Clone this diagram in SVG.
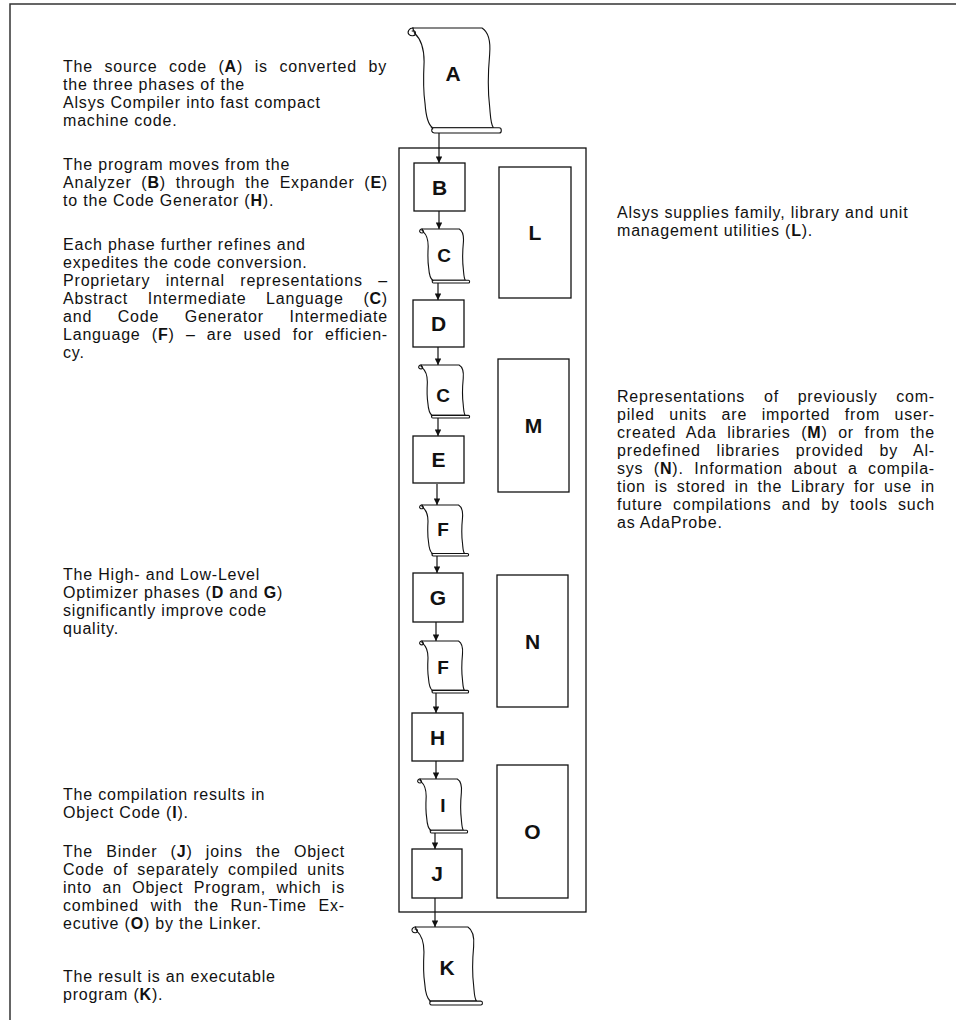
<svg xmlns="http://www.w3.org/2000/svg" width="956" height="1020" viewBox="0 0 956 1020">
<style>
.frame{fill:none;stroke:#333;stroke-width:1.5}
.box{fill:#fff;stroke:#111;stroke-width:1.3}
.scr{fill:#fff;stroke:#111;stroke-width:1.1;vector-effect:non-scaling-stroke}
.scl{fill:none;stroke:#111;stroke-width:1.1;vector-effect:non-scaling-stroke}
.t{font-family:"Liberation Sans",Arial,Helvetica,sans-serif;font-size:16px;fill:#111;letter-spacing:0.8px}
.b{font-weight:bold}
.lbl{font-family:"Liberation Sans",Arial,Helvetica,sans-serif;font-weight:bold;font-size:21px;fill:#111;text-anchor:middle}
.lbs{font-size:19px}
.conn line{stroke:#111;stroke-width:1.2;marker-end:url(#ah)}
</style>
<defs>
<marker id="ah" viewBox="0 0 10 10" refX="10" refY="5" markerWidth="9" markerHeight="6.5" markerUnits="userSpaceOnUse" orient="auto">
<path d="M0,0 L10,5 L0,10 z" fill="#111"/>
</marker>
<g id="scroll">
<path class="scr" d="M6 0 L79 0 C86 4 88 14 87 25 C85 45 85 60 87 75 C88 85 88 92 91 95 L27 95 C22 92 20 85 19 72 C17 60 17 50 18 32 C18 20 14 10 8 5 Z"/>
<path class="scr" d="M26 95 L97 95 C100 95 100 100 97 100 L29 100 C26 100 25 97 27 96 Z"/>
<path class="scl" d="M7 0 C2 -0.5 0 4 2 6 C4 8 9 8 9 5 C9 3 7 2 5 3"/>
</g>
</defs>
<rect width="956" height="1020" fill="#fff"/>
<path class="frame" d="M10 1020 L10 4 L956 4"/>

<g id="container"><rect x="399" y="148" width="187" height="764" fill="none" stroke="#111" stroke-width="1.3"/></g>

<g class="conn" id="connectors">
<line x1="439" y1="133" x2="439" y2="163"/>
<line x1="439" y1="211" x2="439" y2="229"/>
<line x1="438" y1="283" x2="438" y2="300"/>
<line x1="438" y1="347" x2="438" y2="365"/>
<line x1="438" y1="418" x2="438" y2="436"/>
<line x1="437" y1="484" x2="437" y2="505"/>
<line x1="437" y1="556" x2="437" y2="573"/>
<line x1="436" y1="622" x2="436" y2="641"/>
<line x1="436" y1="693" x2="436" y2="713"/>
<line x1="436" y1="761" x2="436" y2="779"/>
<line x1="435" y1="833" x2="435" y2="849"/>
<line x1="435" y1="898" x2="435" y2="927"/>
</g>

<g id="A"><use href="#scroll" transform="translate(407 28) scale(0.95 1.05)"/><text class="lbl" x="453" y="81">A</text></g>
<g id="B"><rect class="box" x="414" y="163" width="51" height="48"/><text class="lbl" x="439.5" y="195">B</text></g>
<g id="C1"><use href="#scroll" transform="translate(419 229) scale(0.51 0.54)"/><text class="lbl lbs" x="444" y="262">C</text></g>
<g id="D"><rect class="box" x="413" y="300" width="51" height="47"/><text class="lbl" x="438.5" y="331">D</text></g>
<g id="C2"><use href="#scroll" transform="translate(418 365) scale(0.52 0.53)"/><text class="lbl lbs" x="443" y="402">C</text></g>
<g id="E"><rect class="box" x="413" y="436" width="51" height="47"/><text class="lbl" x="438.5" y="467">E</text></g>
<g id="F1"><use href="#scroll" transform="translate(419 505) scale(0.5 0.51)"/><text class="lbl lbs" x="443" y="536">F</text></g>
<g id="G"><rect class="box" x="413" y="573" width="50" height="49"/><text class="lbl" x="438" y="605">G</text></g>
<g id="F2"><use href="#scroll" transform="translate(419 641) scale(0.5 0.52)"/><text class="lbl lbs" x="443" y="674">F</text></g>
<g id="H"><rect class="box" x="412" y="713" width="51" height="48"/><text class="lbl" x="437.5" y="745">H</text></g>
<g id="I"><use href="#scroll" transform="translate(417 779) scale(0.51 0.54)"/><text class="lbl lbs" x="443" y="812">I</text></g>
<g id="J"><rect class="box" x="412" y="849" width="50" height="49"/><text class="lbl" x="437" y="881">J</text></g>
<g id="K"><use href="#scroll" transform="translate(411 927) scale(0.72 0.78)"/><text class="lbl" x="447" y="975">K</text></g>

<g id="L"><rect class="box" x="499" y="167" width="72" height="131"/><text class="lbl" x="535" y="240">L</text></g>
<g id="M"><rect class="box" x="498" y="359" width="71" height="133"/><text class="lbl" x="533.5" y="433">M</text></g>
<g id="N"><rect class="box" x="497" y="575" width="71" height="132"/><text class="lbl" x="532.5" y="649">N</text></g>
<g id="O"><rect class="box" x="497" y="765" width="71" height="133"/><text class="lbl" x="532.5" y="839">O</text></g>

<g id="text-left">
<text class="t" x="63" y="72" word-spacing="6.4" textLength="324" lengthAdjust="spacing">The source code (<tspan class="b">A</tspan>) is converted by</text>
<text class="t" x="63" y="90">the three phases of the</text>
<text class="t" x="63" y="108">Alsys Compiler into fast compact</text>
<text class="t" x="63" y="126">machine code.</text>

<text class="t" x="63" y="170">The program moves from the</text>
<text class="t" x="63" y="188" word-spacing="4.5" textLength="325" lengthAdjust="spacing">Analyzer (<tspan class="b">B</tspan>) through the Expander (<tspan class="b">E</tspan>)</text>
<text class="t" x="63" y="206">to the Code Generator (<tspan class="b">H</tspan>).</text>

<text class="t" x="63" y="250">Each phase further refines and</text>
<text class="t" x="63" y="268">expedites the code conversion.</text>
<text class="t" x="63" y="286" word-spacing="10.2" textLength="325" lengthAdjust="spacing">Proprietary internal representations –</text>
<text class="t" x="63" y="304" word-spacing="14.5" textLength="325" lengthAdjust="spacing">Abstract Intermediate Language (<tspan class="b">C</tspan>)</text>
<text class="t" x="63" y="322" word-spacing="20.3" textLength="325" lengthAdjust="spacing">and Code Generator Intermediate</text>
<text class="t" x="63" y="340" word-spacing="6" textLength="325" lengthAdjust="spacing">Language (<tspan class="b">F</tspan>) – are used for efficien-</text>
<text class="t" x="63" y="358">cy.</text>

<text class="t" x="63" y="580">The High- and Low-Level</text>
<text class="t" x="63" y="598">Optimizer phases (<tspan class="b">D</tspan> and <tspan class="b">G</tspan>)</text>
<text class="t" x="63" y="616">significantly improve code</text>
<text class="t" x="63" y="634">quality.</text>

<text class="t" x="63" y="800">The compilation results in</text>
<text class="t" x="63" y="818">Object Code (<tspan class="b">I</tspan>).</text>

<text class="t" x="63" y="857" word-spacing="8" textLength="282" lengthAdjust="spacing">The Binder (<tspan class="b">J</tspan>) joins the Object</text>
<text class="t" x="63" y="875" word-spacing="3.7" textLength="282" lengthAdjust="spacing">Code of separately compiled units</text>
<text class="t" x="63" y="893" word-spacing="5.2" textLength="282" lengthAdjust="spacing">into an Object Program, which is</text>
<text class="t" x="63" y="911" word-spacing="6.5" textLength="282" lengthAdjust="spacing">combined with the Run-Time Ex-</text>
<text class="t" x="63" y="929">ecutive (<tspan class="b">O</tspan>) by the Linker.</text>

<text class="t" x="63" y="982">The result is an executable</text>
<text class="t" x="63" y="1000">program (<tspan class="b">K</tspan>).</text>
</g>

<g id="text-right">
<text class="t" x="617" y="218">Alsys supplies family, library and unit</text>
<text class="t" x="617" y="236">management utilities (<tspan class="b">L</tspan>).</text>

<text class="t" x="617" y="402" word-spacing="13.6" textLength="318" lengthAdjust="spacing">Representations of previously com-</text>
<text class="t" x="617" y="420" word-spacing="9.3" textLength="318" lengthAdjust="spacing">piled units are imported from user-</text>
<text class="t" x="617" y="438" word-spacing="5.2" textLength="318" lengthAdjust="spacing">created Ada libraries (<tspan class="b">M</tspan>) or from the</text>
<text class="t" x="617" y="456" word-spacing="10.5" textLength="318" lengthAdjust="spacing">predefined libraries provided by Al-</text>
<text class="t" x="617" y="474" word-spacing="5.2" textLength="318" lengthAdjust="spacing">sys (<tspan class="b">N</tspan>). Information about a compila-</text>
<text class="t" x="617" y="492" word-spacing="3.9" textLength="318" lengthAdjust="spacing">tion is stored in the Library for use in</text>
<text class="t" x="617" y="510" word-spacing="5" textLength="318" lengthAdjust="spacing">future compilations and by tools such</text>
<text class="t" x="617" y="528">as AdaProbe.</text>
</g>
</svg>
